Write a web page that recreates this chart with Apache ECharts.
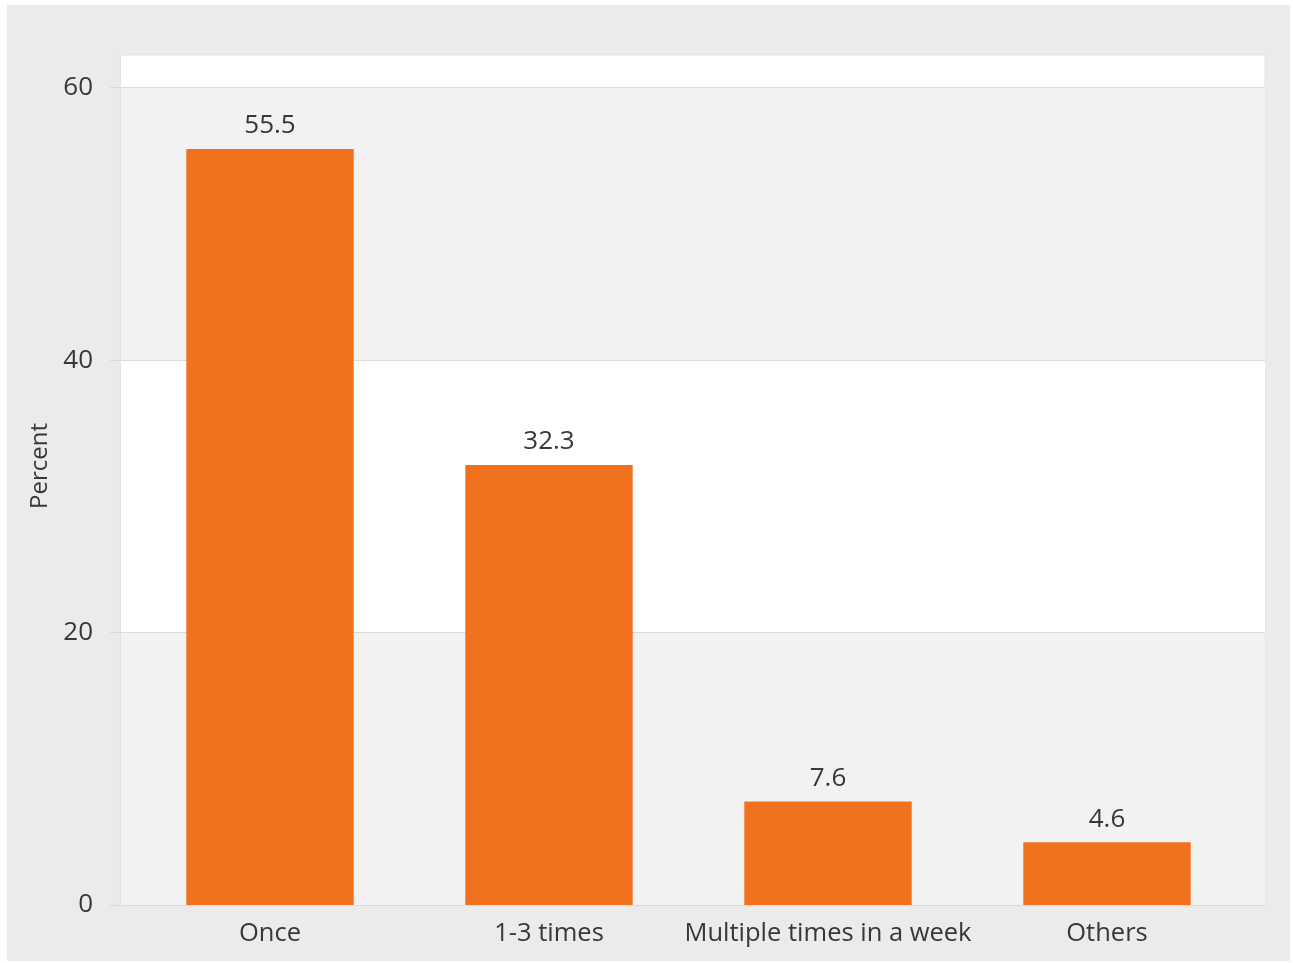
<!DOCTYPE html>
<html>
<head>
<meta charset="utf-8">
<script src="https://cdn.jsdelivr.net/npm/echarts@6/dist/echarts.min.js"></script>
<style>
html,body{margin:0;padding:0;background:#ffffff;}
#chart{position:absolute;left:7px;top:5px;width:1283px;height:956px;background:#ebebeb;}
</style>
</head>
<body>
<div id="chart"></div>
<script>
const categories = ['Once', '1-3 times', 'Multiple times in a week', 'Others'];
const percentValues = [55.5, 32.3, 7.6, 4.6];
const yTicks = [0, 20, 40, 60];
const yMax = 62.4;

const chart = echarts.init(document.getElementById('chart'));
const font = '"Open Sans", "Noto Sans", sans-serif';
const textColor = '#383838';
const lineColor = '#dadada';

chart.setOption({
  animation: false,
  backgroundColor: '#ebebeb',
  textStyle: { fontFamily: font },
  grid: [
    { left: 113, right: 25, top: 50, bottom: 56, containLabel: false,
      show: true, backgroundColor: '#ffffff', borderColor: '#e4e4e4', borderWidth: 1 },
    { left: 123.5, right: 43.5, top: 50, bottom: 56, containLabel: false }
  ],
  xAxis: [
    {
      gridIndex: 0, type: 'value', min: 0, max: 1,
      axisLine: { show: true, onZero: false, lineStyle: { color: lineColor, width: 1 } },
      axisTick: { show: false }, axisLabel: { show: false }, splitLine: { show: false }
    },
    {
      gridIndex: 1, type: 'category', data: categories,
      axisLine: { show: false }, axisTick: { show: false },
      axisLabel: { color: textColor, fontSize: 25.5, fontFamily: font, margin: 16, interval: 0 }
    }
  ],
  yAxis: [
    {
      gridIndex: 0, type: 'value', min: 0, max: yMax, interval: 20,
      name: 'Percent', nameLocation: 'middle', nameGap: 66,
      nameTextStyle: { color: textColor, fontSize: 24, fontFamily: font, padding: [0, 0, 0, 28] },
      axisLine: { show: true, lineStyle: { color: '#e2e2e2', width: 1 } },
      axisTick: { show: true, length: 10, customValues: yTicks, lineStyle: { color: lineColor } },
      axisLabel: { color: textColor, fontSize: 26, fontFamily: font, margin: 27, customValues: yTicks },
      splitLine: { show: true, lineStyle: { color: lineColor, width: 1 } },
      splitArea: { show: true, areaStyle: { color: ['#f2f2f2', '#ffffff'] } }
    },
    {
      gridIndex: 1, type: 'value', min: 0, max: yMax, interval: 20,
      axisLine: { show: false }, axisTick: { show: false }, axisLabel: { show: false },
      splitLine: { show: false }
    }
  ],
  series: [
    {
      type: 'bar', xAxisIndex: 1, yAxisIndex: 1,
      data: percentValues,
      barCategoryGap: '40%',
      itemStyle: { color: '#f1711f' },
      label: { show: true, position: 'top', distance: 10, color: textColor, fontSize: 26, fontFamily: font }
    }
  ]
});
</script>
</body>
</html>
